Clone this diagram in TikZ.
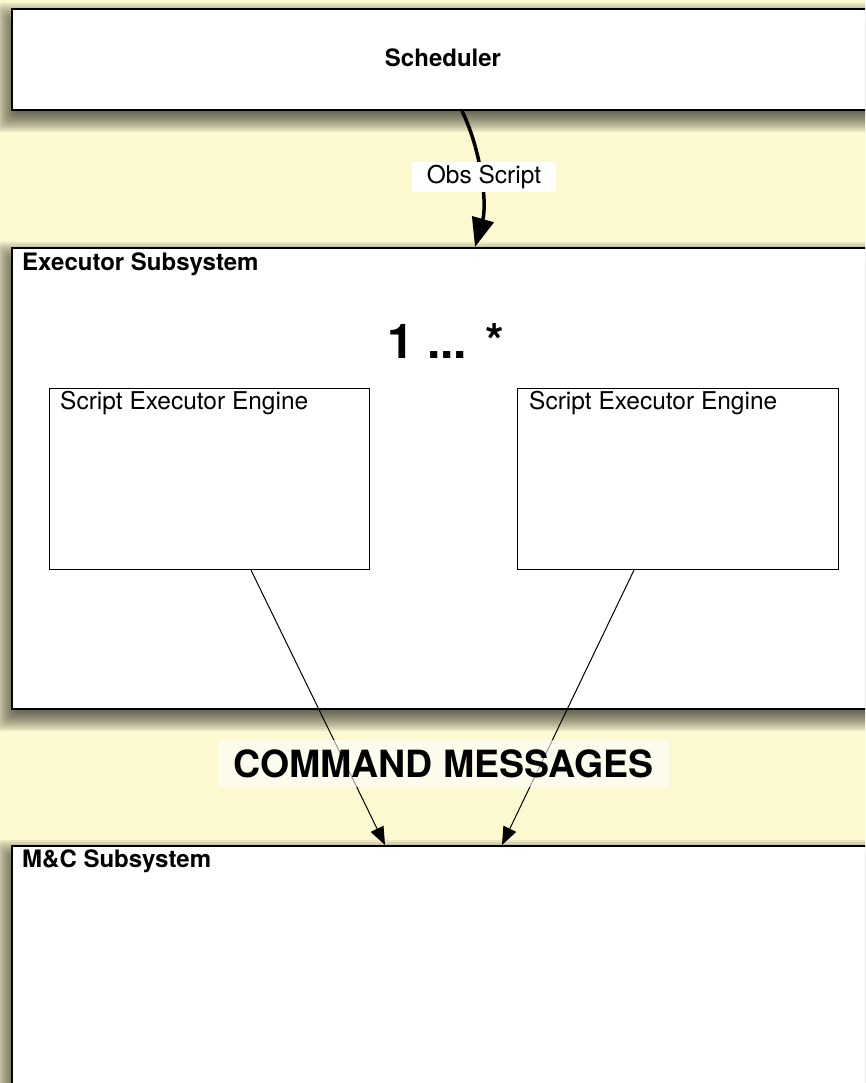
\documentclass[tikz,border=0pt]{standalone}
\usepackage{fontspec}
\setmainfont{TeX Gyre Heros}
\usetikzlibrary{arrows.meta,calc}
\definecolor{paper}{HTML}{FCF8D0}

% soft drop shadow under a panel: #1,#2 = top left, #3,#4 = bottom right
\newcommand\dropshade[4]{%
  \foreach \r in {14,12,...,-6}{%
    \fill[black, fill opacity=0.075, rounded corners=5pt]
      ({#1-2-\r},{#2+9-\r}) rectangle ({#3},{#4+9+\r});
  }%
}

\begin{document}
\begin{tikzpicture}[x=1pt,y=-1pt,
  panel/.style={draw=black, line width=2pt, fill=white, anchor=north west,
    minimum width=880pt, inner sep=0pt},
  engine/.style={draw=black, line width=1.1pt, fill=white, anchor=north west,
    minimum height=181pt, inner sep=0pt},
  title/.style={anchor=base west, inner sep=0pt,
    font=\fontsize{24}{28}\selectfont\bfseries},
  plain/.style={anchor=base west, inner sep=0pt,
    font=\fontsize{24.5}{28}\selectfont},
  flow/.style={line width=3.5pt, -{Triangle[length=29pt,width=22pt]}},
  msg/.style={line width=1pt, -{Triangle[length=18pt,width=14pt]}}
]
\useasboundingbox (0,0) rectangle (865,1083);
\clip (0,0) rectangle (865,1083);
\fill[paper] (0,0) rectangle (865,1083);

% shadows beneath the panels
\dropshade{11}{8}{900}{109}
\dropshade{11}{247}{900}{708}
\dropshade{11}{845}{900}{1150}

% subsystem panels
\node[panel, minimum height=101pt] (sched) at (11,8) {};
\node[anchor=base, inner sep=0pt, font=\fontsize{24}{28}\selectfont\bfseries]
  (schedtxt) at (443,67) {Scheduler};

\node[panel, minimum height=461pt] (exec) at (11,247) {};
\node[title] (exectxt) at (22,270) {Executor Subsystem};

\node[panel, minimum height=300pt] (mc) at (11,845) {};
\node[title] (mctxt) at (22,867) {M\&C Subsystem};

% multiplicity
\node[anchor=base west, inner sep=0pt, font=\fontsize{48}{56}\selectfont\bfseries]
  (mult) at (387,358) {1 ... *};

% executor engines
\node[engine, minimum width=320pt] (eng1) at (49,388) {};
\node[plain] (eng1txt) at (60,409) {Script Executor Engine};
\node[engine, minimum width=321pt] (eng2) at (517,388) {};
\node[plain] (eng2txt) at (529,409) {Script Executor Engine};

% observation script flow
\draw[flow] ($(sched.south west)+(451,0)$)
  .. controls +(20,41) and +(12,-42) .. ($(exec.north west)+(464,0)$);
\node[fill=white, inner sep=0pt, minimum width=144pt, minimum height=30pt,
  font=\fontsize{24.5}{28}\selectfont] (obs) at (484,177) {Obs Script};

% command messages
\draw[msg] ($(eng1.south west)+(202,0)$) -- ($(mc.north west)+(374,0)$);
\draw[msg] ($(eng2.south west)+(117,0)$) -- ($(mc.north west)+(491,0)$);
\node[fill=white, fill opacity=0.6, text opacity=1, inner sep=0pt,
  minimum width=451pt, minimum height=47pt,
  font=\fontsize{37.5}{44}\selectfont\bfseries] (cmd) at (443.5,763.5)
  {COMMAND MESSAGES};
\end{tikzpicture}
\end{document}
